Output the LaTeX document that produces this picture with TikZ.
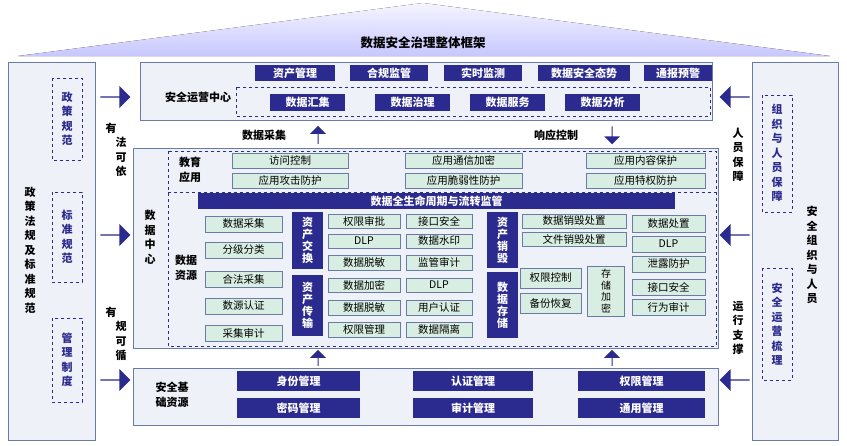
\documentclass[tikz,border=0pt]{standalone}
\usepackage{fontspec}
\setmainfont{Noto Sans CJK SC}
\usetikzlibrary{shapes.arrows}
\definecolor{navy}{HTML}{2B2A8E}
\definecolor{lgreen}{HTML}{D9EEE2}
\definecolor{panelbg}{HTML}{EEF1F8}
\definecolor{edge}{HTML}{6A7BA8}
\tikzset{
  navybox/.style={fill=navy,text=white,font=\bfseries\fontsize{11}{12}\selectfont,inner sep=0pt},
  greenbox/.style={fill=lgreen,draw=edge,line width=0.8pt,font=\fontsize{10.5}{11}\selectfont,inner sep=0pt},
  panel/.style={fill=panelbg,draw=edge,line width=1pt},
  dashbox/.style={draw=navy,dashed,line width=0.9pt},
  bigarrow/.style={single arrow,fill=navy,minimum height=30pt,minimum width=22pt,single arrow head extend=4pt,inner sep=0pt},
  smallarrow/.style={single arrow,fill=navy,minimum height=18pt,minimum width=16pt,single arrow head extend=3pt,inner sep=0pt},
  lbl/.style={font=\bfseries\fontsize{11}{14.5}\selectfont,align=center,inner sep=0pt}
}
\newcommand{\gbox}[5]{\node[greenbox,minimum width=#3-#1,minimum height=#4-#2] (#5n) at ({(#1+#3)/2},{(#2+#4)/2}) {#5};}
\newcommand{\nbox}[6]{\node[navybox,minimum width=#3-#1,minimum height=#4-#2,align=center] (#5) at ({(#1+#3)/2},{(#2+#4)/2}) {#6};}
\begin{document}
\begin{tikzpicture}[x=1pt,y=-1pt]
\useasboundingbox[fill=white] (0,0) rectangle (847,445);
% roof
\fill[top color=blue!4,bottom color=blue!22] (18,56) -- (423,3) -- (830,56) -- cycle;
\node[lbl,font=\bfseries\fontsize{12.5}{13}\selectfont] (title) at (423,43) {数据安全治理整体框架};
% side panels
\draw[panel] (8,62) rectangle (95,440);
\draw[panel] (752,62) rectangle (838,440);
\node[lbl] (law) at (30,250) {政\\策\\法\\规\\及\\标\\准\\规\\范};
\draw[dashbox] (52,78) rectangle (82,160);
\draw[dashbox] (52,192) rectangle (82,282);
\draw[dashbox] (52,318) rectangle (82,402);
\node[lbl,text=navy] (pol) at (67,119) {政\\策\\规\\范};
\node[lbl,text=navy] (std) at (67,237) {标\\准\\规\\范};
\node[lbl,text=navy] (mgt) at (67,360) {管\\理\\制\\度};
\node[lbl] (org) at (812,255) {安\\全\\组\\织\\与\\人\\员};
\draw[dashbox] (762,95) rectangle (792,212);
\draw[dashbox] (762,268) rectangle (792,380);
\node[lbl,text=navy] (ppl) at (777,153) {组\\织\\与\\人\\员\\保\\障};
\node[lbl,text=navy] (ops) at (777,324) {安\\全\\运\\营\\梳\\理};
% big arrows
\foreach \y/\n in {97/a,235/b,380/c}{
  \node[bigarrow] (la\n) at (115,\y) {};
  \node[bigarrow,shape border rotate=180] (ra\n) at (735,\y) {};
}
\node[lbl] (fa1) at (111,128) {有};
\node[lbl] (fa2) at (121,157) {法\\可\\依};
\node[lbl] (ga1) at (111,312) {有};
\node[lbl] (ga2) at (121,341) {规\\可\\循};
\node[lbl] (rb) at (738,155) {人\\员\\保\\障};
\node[lbl] (yz) at (738,328) {运\\行\\支\\撑};
% security operations centre
\draw[panel] (140,62) rectangle (712,120);
\node[lbl] (soc) at (198,97) {安全运营中心};
\nbox{255}{65}{335}{81}{t1}{资产管理}
\nbox{350}{65}{428}{81}{t2}{合规监管}
\nbox{444}{65}{522}{81}{t3}{实时监测}
\nbox{538}{65}{630}{81}{t4}{数据安全态势}
\nbox{644}{65}{712}{81}{t5}{通报预警}
\draw[dashbox] (236,87) rectangle (710,116);
\nbox{270}{94}{345}{111}{b1}{数据汇集}
\nbox{375}{94}{450}{111}{b2}{数据治理}
\nbox{470}{94}{545}{111}{b3}{数据服务}
\nbox{565}{94}{640}{111}{b4}{数据分析}
\node[smallarrow,shape border rotate=90] (up1) at (318,135) {};
\node[smallarrow,shape border rotate=270] (dn1) at (612,135) {};
\node[lbl] (cj) at (264,135) {数据采集};
\node[lbl] (xy) at (556,135) {响应控制};
% data centre
\draw[panel] (133,148) rectangle (718,348);
\draw[dashbox] (168,151) rectangle (716,346);
\draw[dashbox] (168,192) -- (716,192);
\node[lbl] (dc) at (150,237) {数\\据\\中\\心};
\node[lbl] (edu) at (190,170) {教育\\应用};
\gbox{232}{153}{348}{168}{访问控制}
\gbox{232}{173}{348}{188}{应用攻击防护}
\gbox{405}{153}{522}{168}{应用通信加密}
\gbox{405}{173}{522}{188}{应用脆弱性防护}
\gbox{586}{153}{705}{168}{应用内容保护}
\gbox{586}{173}{705}{188}{应用特权防护}
\nbox{198}{193}{675}{209}{life}{数据全生命周期与流转监管}
\node[lbl] (res) at (186,268) {数据\\资源};
\gbox{205}{216}{282}{232}{数据采集}
\gbox{205}{242}{282}{258}{分级分类}
\gbox{205}{271}{282}{287}{合法采集}
\gbox{205}{298}{282}{314}{数源认证}
\gbox{205}{325}{282}{341}{采集审计}
\nbox{292}{212}{323}{269}{ex}{资\\产\\交\\换}
\nbox{292}{275}{323}{336}{tr}{资\\产\\传\\输}
\gbox{328}{214}{400}{228}{权限审批}
\gbox{328}{234}{400}{248}{DLP}
\gbox{328}{255}{400}{270}{数据脱敏}
\gbox{328}{278}{400}{292}{数据加密}
\gbox{328}{300}{400}{315}{数据脱敏 }
\gbox{328}{322}{400}{337}{权限管理}
\gbox{406}{214}{472}{228}{接口安全}
\gbox{406}{234}{472}{248}{数据水印}
\gbox{406}{255}{472}{270}{监管审计}
\gbox{406}{278}{472}{292}{DLP }
\gbox{406}{300}{472}{315}{用户认证}
\gbox{406}{322}{472}{337}{数据隔离}
\nbox{487}{212}{518}{268}{ds}{资\\产\\销\\毁}
\nbox{487}{272}{518}{338}{st}{数\\据\\存\\储}
\gbox{522}{214}{626}{228}{数据销毁处置}
\gbox{522}{232}{626}{246}{文件销毁处置}
\gbox{520}{268}{581}{288}{权限控制}
\gbox{520}{293}{581}{313}{备份恢复}
\node[greenbox,minimum width=37,minimum height=50,align=center,font=\fontsize{10}{11.5}\selectfont] (enc) at (606,291) {存\\储\\加\\密};
\gbox{632}{215}{705}{232}{数据处置}
\gbox{632}{236}{705}{252}{DLP  }
\gbox{632}{256}{705}{272}{泄露防护}
\gbox{632}{279}{705}{295}{接口安全 }
\gbox{632}{299}{705}{315}{行为审计}
\node[smallarrow,shape border rotate=90,minimum height=16pt] (up2) at (318,358) {};
\node[smallarrow,shape border rotate=90,minimum height=16pt] (up3) at (612,358) {};
% basic resources
\draw[panel] (133,368) rectangle (718,425);
\node[lbl] (base) at (172,395) {安全基\\础资源};
\nbox{237}{371}{360}{391}{r1}{身份管理}
\nbox{237}{398}{360}{418}{r2}{密码管理}
\nbox{413}{371}{533}{391}{r3}{认证管理}
\nbox{413}{398}{533}{418}{r4}{审计管理}
\nbox{578}{371}{705}{391}{r5}{权限管理}
\nbox{578}{398}{705}{418}{r6}{通用管理}
\end{tikzpicture}
\end{document}
